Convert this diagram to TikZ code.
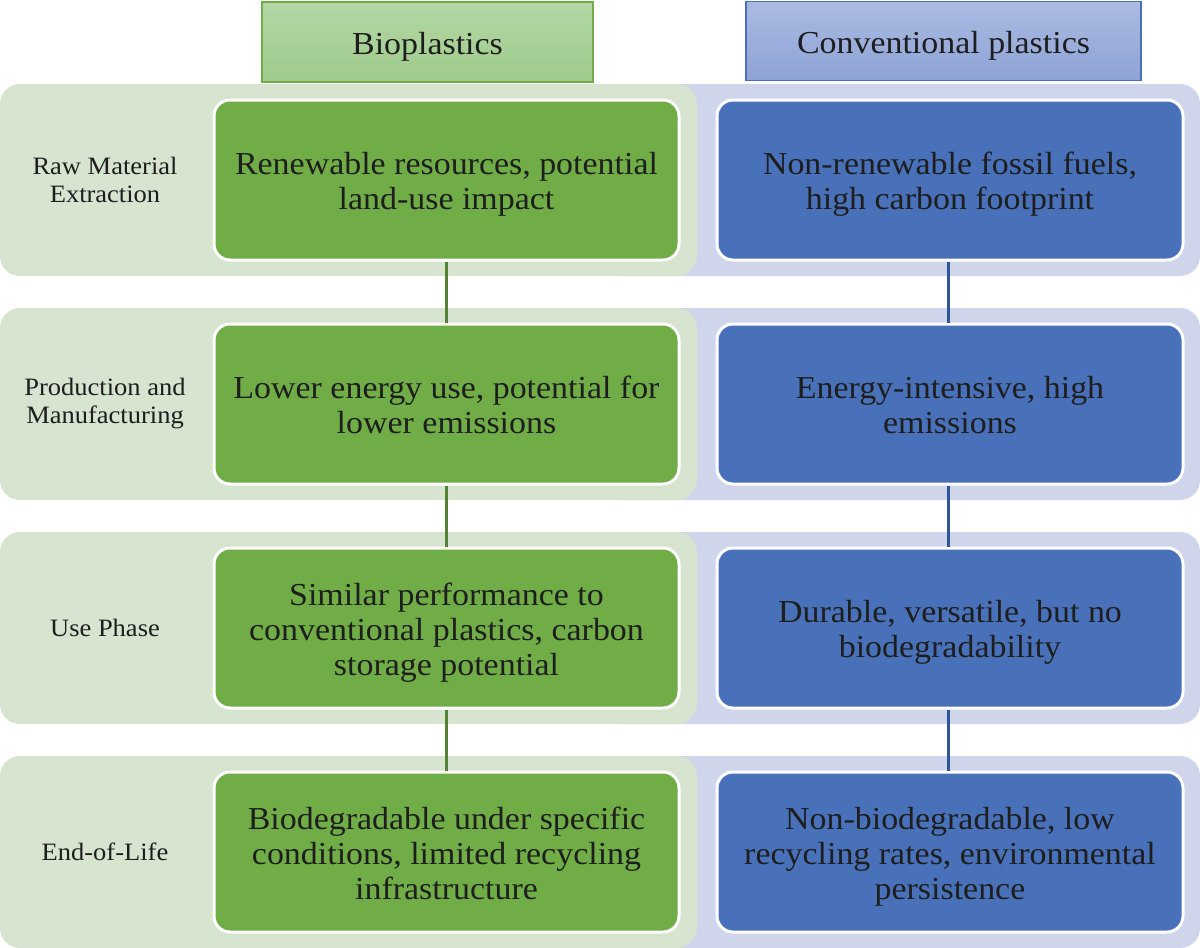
\documentclass[tikz,border=0pt]{standalone}
\usepackage{fontspec}
\setmainfont{Liberation Serif}[FakeStretch=1.06]
\definecolor{bandG}{RGB}{214,228,208}
\definecolor{bandB}{RGB}{207,213,234}
\definecolor{boxG}{RGB}{112,173,71}
\definecolor{boxB}{RGB}{72,113,185}
\definecolor{lineG}{RGB}{84,130,53}
\definecolor{lineB}{RGB}{47,85,151}
\definecolor{hgTop}{RGB}{180,215,166}
\definecolor{hgBot}{RGB}{158,203,138}
\definecolor{hbTop}{RGB}{171,186,226}
\definecolor{hbBot}{RGB}{141,163,213}
\definecolor{txt}{RGB}{30,30,30}
\newcommand{\celltext}[1]{\raisebox{-5pt}[\height][\depth]{\begin{tabular}{@{}c@{}}#1\end{tabular}}}
\tikzset{
  bigtext/.style={font=\fontsize{32}{35}\selectfont, text=txt, align=center},
  header/.style={bigtext, rectangle, inner sep=0pt, line width=1.5pt},
  hgreen/.style={header, draw=boxG, top color=hgTop, bottom color=hgBot, minimum width=331, minimum height=80},
  hblue/.style={header, draw=boxB, top color=hbTop, bottom color=hbBot, minimum width=395, minimum height=79},
  cellbox/.style={bigtext, rectangle, rounded corners=16pt, draw=white, line width=3pt, minimum height=160, inner sep=0pt},
  gbox/.style={cellbox, fill=boxG, minimum width=465},
  bbox/.style={cellbox, fill=boxB, minimum width=466},
  rowlabel/.style={font=\fontsize{25}{28}\selectfont, text=txt, align=center},
  gconn/.style={draw=lineG, line width=3pt},
  bconn/.style={draw=lineB, line width=3pt},
}
\begin{document}
\begin{tikzpicture}[x=1pt,y=-1pt]
\useasboundingbox (0,0) rectangle (1200,948);
% bands
\foreach \t in {84,308,532,756}{
  \fill[bandB, rounded corners=20pt] (600,\t) rectangle (1200,\t+192);
  \fill[bandG, rounded corners=20pt] (0,\t) rectangle (697,\t+192);
}
% headers
\node[hgreen] (hg) at (427.5,42) {\celltext{Bioplastics}};
\node[hblue] (hb) at (943.5,41) {\celltext{Conventional plastics}};
% row labels
\node[rowlabel] (l1) at (105,180) {Raw Material\\Extraction};
\node[rowlabel] (l2) at (105,404) {Production and\\Manufacturing};
\node[rowlabel] (l3) at (105,628) {Use Phase};
\node[rowlabel] (l4) at (105,852) {End-of-Life};
% green boxes
\node[gbox] (g1) at (446.5,180) {\celltext{Renewable resources, potential\\land-use impact}};
\node[gbox] (g2) at (446.5,404) {\celltext{Lower energy use, potential for\\lower emissions}};
\node[gbox] (g3) at (446.5,628) {\celltext{Similar performance to\\conventional plastics, carbon\\storage potential}};
\node[gbox] (g4) at (446.5,852) {\celltext{Biodegradable under specific\\conditions, limited recycling\\infrastructure}};
% blue boxes
\node[bbox] (b1) at (950,180) {\celltext{Non-renewable fossil fuels,\\high carbon footprint}};
\node[bbox] (b2) at (950,404) {\celltext{Energy-intensive, high\\emissions}};
\node[bbox] (b3) at (950,628) {\celltext{Durable, versatile, but no\\biodegradability}};
\node[bbox] (b4) at (950,852) {\celltext{Non-biodegradable, low\\recycling rates, environmental\\persistence}};
% connectors
\draw[gconn] (g1.south) -- (g2.north);
\draw[gconn] (g2.south) -- (g3.north);
\draw[gconn] (g3.south) -- (g4.north);
\draw[bconn] ([xshift=-1.5pt]b1.south) -- ([xshift=-1.5pt]b2.north);
\draw[bconn] ([xshift=-1.5pt]b2.south) -- ([xshift=-1.5pt]b3.north);
\draw[bconn] ([xshift=-1.5pt]b3.south) -- ([xshift=-1.5pt]b4.north);
\end{tikzpicture}
\end{document}
